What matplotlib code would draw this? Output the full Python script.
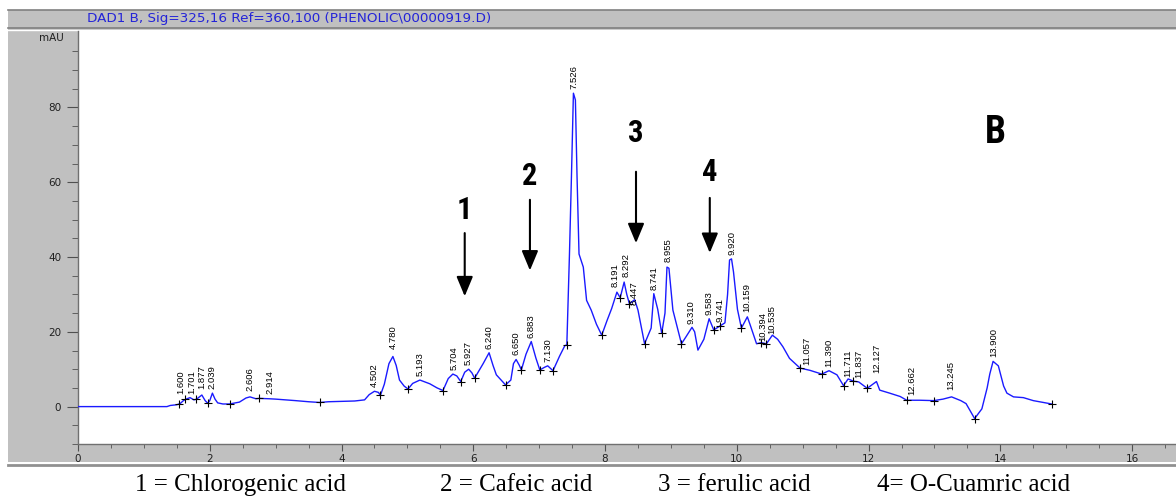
import numpy as np
import matplotlib
matplotlib.use('Agg')
import matplotlib.pyplot as plt
from matplotlib.patches import Rectangle
from matplotlib.lines import Line2D

## ---------------------------------------------------------------------------
## data (retention time in min, signal in mAU)

trace_t = [0.00, 1.35, 1.40, 1.50, 1.55, 1.60, 1.64, 1.70, 1.76, 1.80, 1.88, 1.93,
           1.97, 2.00, 2.04, 2.08, 2.12, 2.20, 2.30, 2.45, 2.55, 2.61, 2.70, 2.75,
           2.90, 3.00, 3.30, 3.50, 3.67, 3.80, 4.20, 4.35, 4.42, 4.50, 4.56, 4.59,
           4.65, 4.72, 4.78, 4.83, 4.88, 4.95, 5.01, 5.08, 5.19, 5.34, 5.45, 5.54,
           5.62, 5.69, 5.75, 5.81, 5.87, 5.93, 5.98, 6.02, 6.15, 6.24, 6.30, 6.35,
           6.49, 6.57, 6.61, 6.65, 6.70, 6.73, 6.80, 6.88, 6.95, 7.01, 7.08, 7.13,
           7.21, 7.31, 7.39, 7.42, 7.46, 7.49, 7.52, 7.55, 7.575, 7.605, 7.67, 7.72,
           7.79, 7.87, 7.95, 8.03, 8.10, 8.18, 8.23, 8.29, 8.33, 8.37, 8.45, 8.50,
           8.60, 8.70, 8.74, 8.80, 8.86, 8.91, 8.94, 8.97, 9.03, 9.16, 9.23, 9.32,
           9.36, 9.41, 9.50, 9.58, 9.65, 9.74, 9.82, 9.86, 9.89, 9.92, 9.95, 10.01,
           10.07, 10.16, 10.20, 10.30, 10.37, 10.45, 10.54, 10.62, 10.70, 10.80, 10.96, 11.11,
           11.29, 11.40, 11.52, 11.62, 11.69, 11.77, 11.85, 11.98, 12.12, 12.17, 12.32, 12.48,
           12.58, 12.78, 12.99, 13.13, 13.26, 13.40, 13.48, 13.61, 13.72, 13.80, 13.84, 13.89,
           13.97, 14.05, 14.10, 14.20, 14.35, 14.50, 14.78]
trace_mau = [0.0, 0.0, 0.3, 0.5, 0.8, 1.6, 2.0, 2.4, 1.8, 2.0, 3.1, 1.6,
             0.9, 1.6, 3.6, 2.0, 1.0, 0.7, 0.7, 1.2, 2.3, 2.6, 2.1, 2.2,
             2.1, 2.0, 1.6, 1.3, 1.1, 1.3, 1.5, 1.8, 3.2, 4.1, 3.8, 3.0,
             6.0, 11.5, 13.4, 11.0, 7.1, 5.5, 4.7, 6.2, 7.1, 6.1, 5.0, 4.3,
             7.5, 8.7, 8.2, 6.7, 9.2, 10.0, 9.0, 7.6, 11.5, 14.4, 11.0, 8.5,
             5.8, 7.1, 11.5, 12.6, 11.0, 9.8, 14.0, 17.4, 13.0, 9.8, 10.5, 10.9,
             9.6, 13.5, 16.3, 16.5, 40.8, 61.5, 83.8, 82.0, 61.5, 40.8, 37.3, 28.4,
             25.8, 22.0, 19.1, 23.0, 26.2, 30.6, 29.1, 33.3, 30.0, 27.5, 28.6, 25.8,
             16.8, 21.0, 30.2, 26.0, 19.6, 25.0, 37.3, 37.0, 25.8, 16.8, 18.7, 21.2,
             20.0, 15.1, 18.0, 23.5, 20.5, 21.5, 22.4, 30.0, 39.2, 39.5, 36.0, 26.0,
             21.0, 24.0, 22.0, 16.8, 17.1, 16.8, 19.1, 18.0, 16.0, 12.9, 10.3, 9.7,
             8.7, 9.6, 8.5, 5.6, 7.4, 6.8, 6.6, 4.9, 6.7, 4.4, 3.6, 2.7,
             1.7, 1.7, 1.6, 2.0, 2.6, 1.6, 0.8, -3.2, -0.6, 5.0, 8.7, 12.1,
             10.9, 5.5, 3.6, 2.6, 2.4, 1.6, 0.7]

# integration tick marks on the trace
mark_t = [1.54, 1.63, 1.79, 1.97, 2.30, 2.75, 3.67, 4.59, 5.01, 5.54, 5.81, 6.02,
          6.49, 6.73, 7.01, 7.21, 7.42, 7.95, 8.23, 8.37, 8.60, 8.86, 9.16, 9.65,
          9.74, 10.07, 10.37, 10.45, 10.96, 11.29, 11.62, 11.77, 11.98, 12.58, 12.99,
          13.61, 14.78]
mark_mau = [0.8, 2.0, 2.0, 0.9, 0.7, 2.2, 1.1, 3.0, 4.7, 4.3, 6.7, 7.6,
            5.8, 9.8, 9.8, 9.6, 16.5, 19.1, 29.1, 27.5, 16.8, 19.6, 16.8, 20.5,
            21.5, 21.0, 17.1, 16.8, 10.3, 8.7, 5.6, 6.8, 4.9, 1.7, 1.6,
            -3.2, 0.7]

# peak retention-time labels and the height where each label starts
peak_rt = ['1.600', '1.701', '1.877', '2.039', '2.606', '2.914', '4.502', '4.780',
           '5.193', '5.704', '5.927', '6.240', '6.650', '6.883', '7.130', '7.526',
           '8.191', '8.292', '8.447', '8.741', '8.955', '9.310', '9.583', '9.741',
           '9.920', '10.159', '10.394', '10.535', '11.057', '11.390', '11.711',
           '11.837', '12.127', '12.662', '13.245', '13.900']
peak_label_mau = [3.5, 3.5, 4.6, 4.8, 4.1, 3.5, 5.3, 15.3,
                  8.2, 9.9, 11.2, 15.3, 13.8, 18.3, 12.0, 85.0,
                  31.9, 34.6, 27.1, 31.1, 38.7, 22.1, 24.5, 22.7,
                  40.5, 25.2, 17.6, 19.4, 11.1, 10.5, 8.0,
                  7.6, 8.9, 3.1, 4.4, 13.2]
# small sideways nudges (min) so crowded labels do not sit on top of each other
label_nudge = {'1.600': -0.04, '1.701': 0.03, '8.191': -0.04, '8.292': 0.03,
               '11.711': -0.02, '11.837': 0.02}

# compound arrows: label, x (min), arrow top, arrow tip, label height (mAU)
arrow_lbl = ['1', '2', '3', '4']
arrow_t = [5.87, 6.86, 8.47, 9.59]
arrow_top = [46.4, 55.3, 62.8, 55.8]
arrow_tip = [29.5, 36.4, 43.7, 41.1]
arrow_lbl_mau = [52.5, 61.7, 73.2, 62.8]

legend_txt = ['1 = Chlorogenic acid', '2 = Cafeic acid', '3 = ferulic acid',
              '4= O-Cuamric acid']

## ---------------------------------------------------------------------------

W, H = 1176., 497.
fx = lambda x: x / W
fy = lambda y: 1 - y / H

fig = plt.figure(figsize=(W / 100, H / 100), dpi=100)

# gray instrument-style panel (behind the axes)
fig.patches.append(Rectangle((fx(8), fy(462)), 1, (462 - 10) / H,
                             transform=fig.transFigure, facecolor='#c0c0c0',
                             edgecolor='none', zorder=-5))
for y, c, lw in [(10, '#808080', 1.2), (28, '#808080', 1.2), (29.5, '#ffffff', 1.0),
                 (463, '#ffffff', 1.0), (465, '#909090', 2.0)]:
    fig.lines.append(Line2D([fx(8), 1], [fy(y), fy(y)], transform=fig.transFigure,
                            color=c, lw=lw, zorder=-4))

fig.text(fx(289), fy(18.5), r'DAD1 B, Sig=325,16 Ref=360,100 (PHENOLIC\00000919.D)',
         color='#2424d8', fontsize=9.7, ha='center', va='center', family='DejaVu Sans')
fig.text(fx(64), fy(38), 'mAU', fontsize=7.5, ha='right', va='center', color='#202020')

ax = fig.add_axes([fx(78), fy(444), 1 - fx(78), (444 - 31.5) / H])
ax.set_zorder(1)
ax.set_facecolor('white')
ax.set_xlim(0, (W - 78.5) / 65.85)
ax.set_ylim(-10, 100.3)

ax.plot(trace_t, trace_mau, color='#1a1aff', lw=1.0, zorder=3)
ax.plot(mark_t, mark_mau, ls='none', marker='+', ms=6, mew=0.8, color='black', zorder=4)

for lbl, y in zip(peak_rt, peak_label_mau):
    ax.text(float(lbl) + label_nudge.get(lbl, 0), y, lbl, rotation=90, ha='center',
            va='bottom', fontsize=6.8, family='Liberation Sans', color='black', zorder=5)

bold_font = dict(fontweight='bold', family=['Roboto Condensed', 'Roboto', 'DejaVu Sans'])
for lbl, t, y0, y1, yl in zip(arrow_lbl, arrow_t, arrow_top, arrow_tip, arrow_lbl_mau):
    ax.annotate('', xy=(t, y1), xytext=(t, y0),
                arrowprops=dict(arrowstyle='-|>,head_length=0.6,head_width=0.25',
                                mutation_scale=20, color='black', lw=1.5,
                                shrinkA=0, shrinkB=0))
    ax.text(t, yl, lbl, ha='center', va='center', fontsize=22, **bold_font)

ax.text(13.92, 73.2, 'B', ha='center', va='center', fontsize=27, **bold_font)

# axes styling
for s in ['top', 'right']:
    ax.spines[s].set_visible(False)
for s in ['left', 'bottom']:
    ax.spines[s].set_color('#707070')
    ax.spines[s].set_linewidth(1.0)

ax.set_xticks(np.arange(0, 17, 2))
ax.set_xticks(np.arange(0, 16.7, 0.5), minor=True)
ax.set_yticks(np.arange(0, 81, 20))
ax.set_yticks(np.arange(-10, 100, 5), minor=True)
ax.tick_params(axis='both', which='major', labelsize=7.5, color='#505050',
               labelcolor='#202020', direction='out')
ax.tick_params(axis='x', which='major', length=5, pad=2)
ax.tick_params(axis='x', which='minor', length=3, color='#505050')
ax.tick_params(axis='y', which='major', length=8, pad=4)
ax.tick_params(axis='y', which='minor', length=4, color='#505050')

for i, txt in enumerate(legend_txt):
    fig.text(fx([135, 440, 658, 877][i]), fy(485), txt, ha='left', va='center',
             fontsize=18, family='Liberation Serif')

fig.savefig('out.png', dpi=100)
